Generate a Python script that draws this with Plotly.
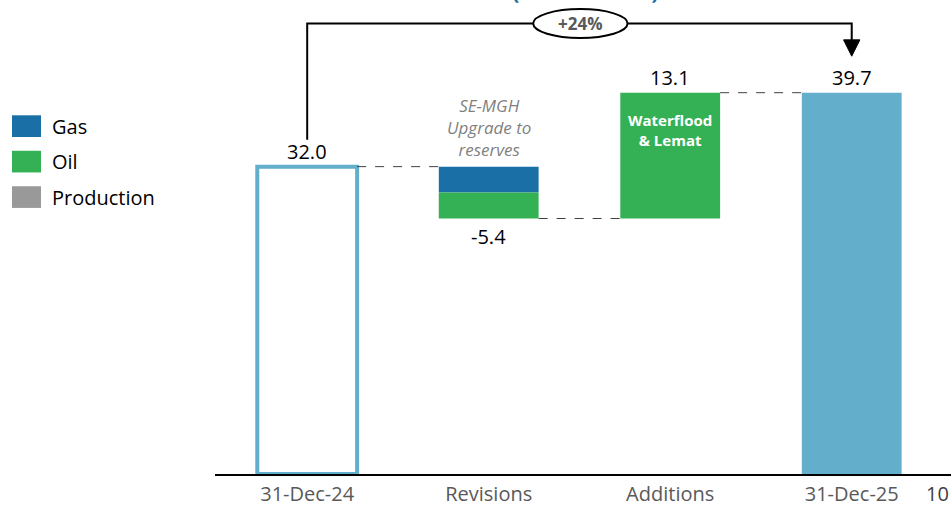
import plotly.graph_objects as go

# reserves bridge (MMboe)
categories = ["31-Dec-24", "Revisions", "Additions", "31-Dec-25"]
opening = 32.0
revisions_gas = -2.7
revisions_oil = -2.7
additions_oil = 13.1
closing = 39.7
value_labels = ["32.0", "-5.4", "13.1", "39.7"]
legend_names = ["Gas", "Oil", "Production"]
legend_colors = ["#1a70a6", "#33b154", "#999999"]
change_label = "+24%"

GAS, OIL, TEAL = "#1a70a6", "#33b154", "#62aecb"
FONT = "Open Sans"
xs = [0, 1, 2, 3]
W = 0.55
PLOT_H = 481

fig = go.Figure()
# opening balance, outline only
fig.add_trace(go.Bar(x=[xs[0]], y=[opening], width=W, marker=dict(color="white", line=dict(color=TEAL, width=4))))
# revisions (negative, stacked from the opening)
after_gas = opening + revisions_gas
after_rev = after_gas + revisions_oil
fig.add_trace(go.Bar(x=[xs[1]], y=[-revisions_gas], base=[after_gas], width=W, marker=dict(color=GAS, line=dict(width=0))))
fig.add_trace(go.Bar(x=[xs[1]], y=[-revisions_oil], base=[after_rev], width=W, marker=dict(color=OIL, line=dict(width=0))))
# additions
fig.add_trace(go.Bar(x=[xs[2]], y=[additions_oil], base=[after_rev], width=W, marker=dict(color=OIL, line=dict(width=0))))
# closing
fig.add_trace(go.Bar(x=[xs[3]], y=[closing], width=W, marker=dict(color=TEAL, line=dict(width=0))))

# dashed connectors
levels = [opening, after_rev, after_rev + additions_oil]
for i, lv in enumerate(levels):
    fig.add_shape(type="line", x0=xs[i] + W / 2, x1=xs[i + 1] - W / 2, y0=lv, y1=lv,
                  line=dict(color="#404040", width=1, dash="dash"))

# value labels
lab_y = [opening, after_rev, after_rev + additions_oil, closing]
for i, (t, yv) in enumerate(zip(value_labels, lab_y)):
    below = i == 1
    fig.add_annotation(x=xs[i], y=yv, text=t, showarrow=False, yanchor="top" if below else "bottom",
                       yshift=-2 if below else 0, font=dict(family=FONT, size=20, color="black"))

fig.add_annotation(x=xs[1], y=opening, text="<i>SE-MGH<br>Upgrade to<br>reserves</i>", showarrow=False,
                   yanchor="bottom", yshift=4, font=dict(family=FONT, size=17, color="#7f7f7f"))
fig.add_annotation(x=xs[2], y=after_rev + additions_oil, text="<b>Waterflood<br>&amp; Lemat</b>", showarrow=False,
                   yanchor="top", yshift=-15, font=dict(family=FONT, size=15, color="white"))

# bracket with arrow
top = 46.9
fig.add_shape(type="path", path=f"M {xs[0]},34.8 L {xs[0]},{top} L {xs[3]},{top} L {xs[3]},45.1",
              line=dict(color="black", width=2))
fig.add_shape(type="path", path=f"M {xs[3]-0.045},45.2 L {xs[3]+0.045},45.2 L {xs[3]},43.5 Z",
              fillcolor="black", line=dict(color="black", width=1))
fig.add_shape(type="circle", x0=1.245, x1=1.765, y0=45.4, y1=48.4, fillcolor="white",
              line=dict(color="black", width=2))
fig.add_annotation(x=1.505, y=46.9, text=f"<b>{change_label}</b>", showarrow=False,
                   font=dict(family=FONT, size=17, color="#595959"))

# clipped title fragment at the top
fig.add_annotation(x=1.535, y=1, xref="x", yref="paper", text="<b>(+7.7 MMboe)</b>", showarrow=False,
                   yanchor="bottom", yshift=-7, font=dict(family=FONT, size=22, color="#1a70a6"))

# manual legend
for k, (nm, col) in enumerate(zip(legend_names, legend_colors)):
    py = 128 + 36 * k
    yc = (PLOT_H - py) / PLOT_H
    fig.add_shape(type="rect", xref="paper", yref="paper",
                  x0=(12 - 215) / 736, x1=(41 - 215) / 736, y0=yc - 11 / PLOT_H, y1=yc + 11 / PLOT_H,
                  fillcolor=col, line=dict(width=0))
    fig.add_annotation(xref="paper", yref="paper", x=(50 - 215) / 736, y=yc, text=nm, showarrow=False,
                       xanchor="left", yanchor="middle", font=dict(family=FONT, size=20, color="black"))

# cut-off "10" at the far right
fig.add_annotation(xref="paper", yref="paper", x=(924 - 215) / 736, y=0, yshift=-19, text="10",
                   showarrow=False, xanchor="left", yanchor="middle",
                   font=dict(family=FONT, size=20, color="#404040"))

fig.update_layout(
    width=951, height=507,
    margin=dict(l=215, r=0, t=0, b=507 - PLOT_H),
    plot_bgcolor="white", paper_bgcolor="white",
    showlegend=False, barmode="overlay",
    xaxis=dict(range=[-0.508, 3.547], tickvals=xs, ticktext=categories, showgrid=False, zeroline=False,
               showline=True, linecolor="black", linewidth=2, ticks="", ticklabelstandoff=1,
               tickfont=dict(family=FONT, size=20, color="#595959")),
    yaxis=dict(range=[0, 49.35], visible=False),
)

fig.write_html("out.html", config={"displayModeBar": False},
               post_script="document.body.style.margin='0';"
                           "document.body.style.overflow='hidden';")
